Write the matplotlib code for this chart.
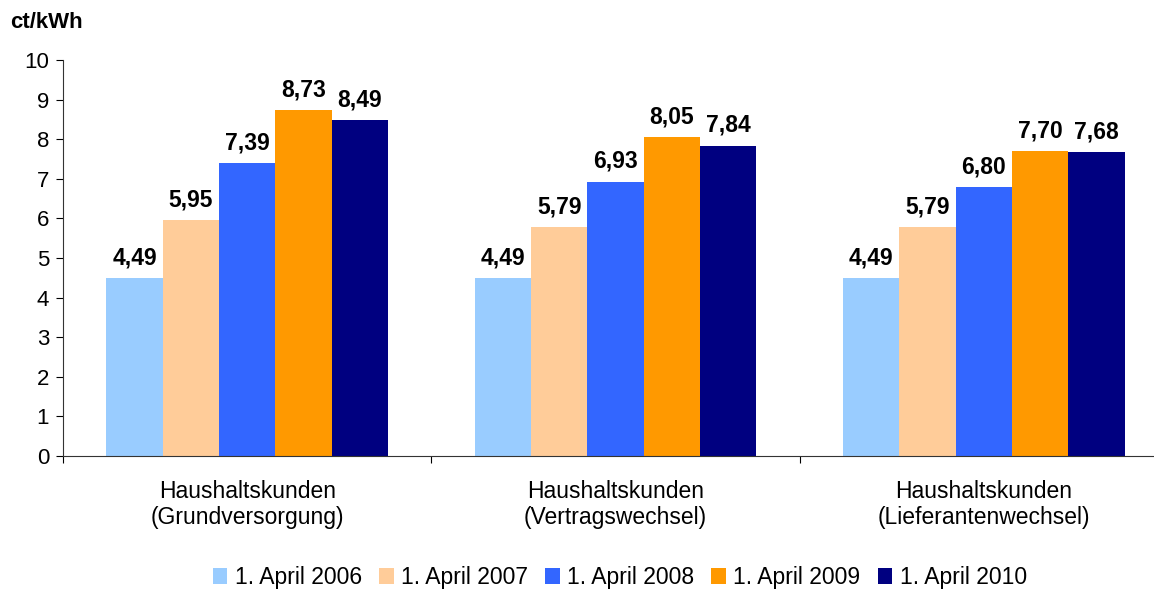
import numpy as np
import matplotlib
matplotlib.use('Agg')
import matplotlib.pyplot as plt

plt.rcParams['font.family'] = ['Liberation Sans', 'DejaVu Sans']

categories = ['Haushaltskunden\n(Grundversorgung)',
              'Haushaltskunden\n(Vertragswechsel)',
              'Haushaltskunden\n(Lieferantenwechsel)']
series = ['1. April 2006', '1. April 2007', '1. April 2008',
          '1. April 2009', '1. April 2010']
values = [
    [4.49, 4.49, 4.49],
    [5.95, 5.79, 5.79],
    [7.39, 6.93, 6.80],
    [8.73, 8.05, 7.70],
    [8.49, 7.84, 7.68],
]
colors = ['#99CCFF', '#FFCC99', '#3366FF', '#FF9900', '#000080']

fig = plt.figure(figsize=(11.54, 5.90), dpi=100)
ax = fig.add_axes([0.0546, 0.2271, 0.9575, 0.671])

x = np.arange(len(categories))
w = 0.153
for i, (name, vals) in enumerate(zip(series, values)):
    pos = x + (i - 2) * w
    ax.bar(pos, vals, width=w, color=colors[i], label=name, zorder=2)
    for p, v in zip(pos, vals):
        ax.text(p, v + 0.22, ('%.2f' % v).replace('.', ','), ha='center',
                va='bottom', fontsize=16.5, fontweight='bold')

ax.set_xlim(-0.5, len(categories) - 0.5)
ax.set_ylim(0, 10)
ax.set_yticks(range(0, 11))
ax.tick_params(axis='y', labelsize=16, length=5, direction='out', pad=5)
ax.set_xticks(np.arange(len(categories) + 1) - 0.5, minor=False)
ax.set_xticklabels([])
ax.set_xticks(x, minor=True)
ax.set_xticklabels(categories, minor=True, fontsize=16.5)
ax.tick_params(axis='x', which='major', length=5, direction='out')
ax.tick_params(axis='x', which='minor', length=0, pad=17)
for s in ['top', 'right']:
    ax.spines[s].set_visible(False)
ax.spines['left'].set_color('#333333')
ax.spines['bottom'].set_color('#333333')

fig.text(0.009, 0.962, 'ct/kWh', fontsize=16, fontweight='bold', ha='left', va='center')

fig.legend(loc='center', bbox_to_anchor=(0.537, 0.021), ncol=5, frameon=False,
           fontsize=16.5, handlelength=0.64, handleheight=0.64, handletextpad=0.32,
           columnspacing=0.75, borderpad=0)

fig.savefig('out.png', dpi=100)
